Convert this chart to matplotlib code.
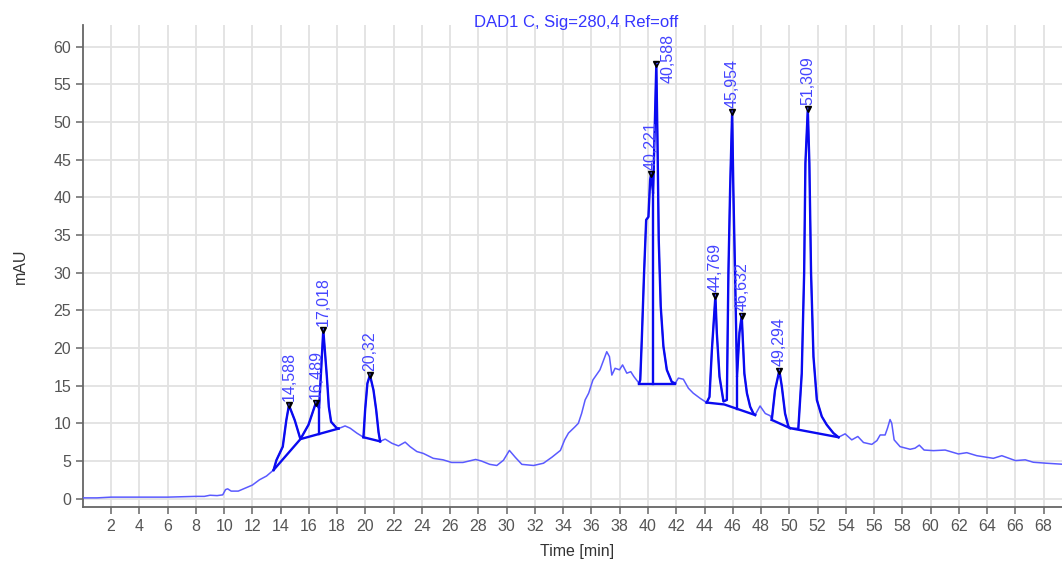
import numpy as np
import matplotlib
matplotlib.use("Agg")
import matplotlib.pyplot as plt

plt.rcParams['font.family'] = ['Liberation Sans', 'DejaVu Sans']

# DAD1 C trace (time in min, signal in mAU)
time_min = [
    0.0, 1.0, 2.0, 3.0, 4.0, 5.0, 6.0, 7.0, 8.0, 8.6, 9.0, 9.5, 9.9,
    10.1, 10.25, 10.5, 11.0, 11.5, 12.0, 12.5, 13.0, 13.5, 13.7, 14.15,
    14.4, 14.588, 15.0, 15.4, 15.97, 16.489, 16.72, 17.018, 17.27, 17.41,
    17.57, 17.97, 18.1, 18.56, 18.92, 19.39, 19.86, 19.98, 20.14, 20.32,
    20.57, 20.76, 20.93, 21.04, 21.4, 21.87, 22.34, 22.81, 23.16, 23.64,
    24.1, 24.8, 25.5, 26.1, 26.9, 27.8, 28.2, 28.8, 29.3, 29.77, 30.19,
    30.6, 31.07, 31.9, 32.6, 33.2, 33.8, 34.1, 34.37, 34.84, 35.07, 35.3,
    35.55, 35.8, 36.1, 36.6, 37.08, 37.27, 37.44, 37.67, 37.98, 38.2,
    38.5, 38.78, 39.0, 39.37, 39.45, 39.56, 39.72, 39.87, 40.03, 40.15,
    40.221, 40.36, 40.588, 40.67, 40.76, 40.9, 41.09, 41.33, 41.68,
    41.92, 42.15, 42.5, 42.86, 43.2, 43.7, 44.15, 44.35, 44.52, 44.769,
    44.87, 45.06, 45.34, 45.58, 45.69, 45.81, 45.954, 46.04, 46.16, 46.3,
    46.47, 46.632, 46.71, 46.82, 47.0, 47.23, 47.46, 47.58, 47.93, 48.3,
    48.65, 48.76, 48.99, 49.294, 49.47, 49.7, 49.94, 50.06, 50.64, 50.88,
    51.05, 51.14, 51.309, 51.42, 51.54, 51.71, 51.95, 52.3, 52.65, 53.12,
    53.48, 53.95, 54.42, 54.85, 55.25, 55.84, 56.2, 56.43, 56.78, 56.95,
    57.13, 57.25, 57.42, 57.84, 58.55, 58.9, 59.2, 59.54, 60.2, 61.03,
    61.97, 62.56, 63.27, 64.44, 65.04, 66.0, 66.7, 67.27, 68.2, 69.3,
]
signal_mau = [
    0.1, 0.1, 0.2, 0.2, 0.2, 0.2, 0.2, 0.25, 0.3, 0.3, 0.45, 0.4, 0.5,
    1.2, 1.3, 1.0, 1.0, 1.4, 1.8, 2.5, 3.0, 3.8, 5.1, 6.9,
    10.4, 12.4, 10.4, 7.9, 9.8, 12.7, 12.0, 22.4, 16.2, 12.2,
    10.2, 9.35, 9.3, 9.65, 9.35, 8.7, 8.15, 11.8, 15.3, 16.4,
    14.4, 11.8, 8.8, 7.6, 7.9, 7.35, 7.0, 7.5, 6.9, 6.25,
    6.0, 5.35, 5.15, 4.8, 4.8, 5.2, 5.0, 4.55, 4.4, 5.1, 6.4,
    5.5, 4.55, 4.4, 4.7, 5.5, 6.4, 7.8, 8.7, 9.55, 10.0, 11.3,
    13.1, 14.0, 15.75, 17.1, 19.5, 18.85, 16.4, 17.3, 17.1, 17.75,
    16.65, 16.85, 16.2, 15.3, 15.75, 21.1, 29.9, 37.0, 37.4, 42.3,
    43.1, 40.5, 57.7, 47.6, 34.3, 25.5, 20.2, 17.1, 15.5,
    15.3, 16.0, 15.85, 14.65, 14.0, 13.3, 12.75, 13.5, 19.7, 26.9,
    22.0, 16.2, 12.9, 13.1, 29.9, 41.0, 51.3, 41.0, 29.9, 16.2,
    22.0, 24.3, 21.1, 16.6, 14.0, 12.2, 11.3, 11.1, 12.3, 11.3,
    11.0, 10.45, 14.4, 17.0, 14.9, 11.3, 9.55, 9.35, 9.35, 16.6,
    29.9, 44.5, 51.7, 44.5, 29.9, 18.85, 13.1, 10.9, 9.8, 8.7,
    8.15, 8.6, 7.8, 8.25, 7.45, 7.2, 7.7, 8.45, 8.45, 9.35,
    10.5, 10.0, 7.8, 6.9, 6.55, 6.7, 7.1, 6.45, 6.37, 6.45,
    5.93, 6.1, 5.7, 5.35, 5.7, 5.05, 5.15, 4.83, 4.7, 4.57,
]

# integrated regions (start, end) in min
peak_windows = [
    (13.5, 18.1), (19.86, 21.04), (39.37, 41.92),
    (44.15, 47.58), (48.76, 50.06), (50.64, 53.48),
]

# baselines drawn under the integrated peaks
baselines = [
    ([13.5, 15.4, 18.1], [3.8, 7.9, 9.3]),
    ([19.86, 21.04], [8.15, 7.6]),
    ([39.37, 41.92], [15.2, 15.2]),
    ([44.15, 45.4, 47.58], [12.75, 12.5, 11.1]),
    ([48.76, 50.06, 50.64, 53.48], [10.45, 9.35, 9.15, 8.15]),
]

# drop lines between unresolved peaks
drop_times = [16.72, 40.36, 46.3]

# labelled peaks
peak_rt = [14.588, 16.489, 17.018, 20.32, 40.221, 40.588,
           44.769, 45.954, 46.632, 49.294, 51.309]
peak_names = ['14,588', '16,489', '17,018', '20,32', '40,221', '40,588',
              '44,769', '45,954', '46,632', '49,294', '51,309']

t = np.array(time_min)
y = np.array(signal_mau)

thin_blue = '#5a5aff'
thick_blue = '#0a0af0'
label_blue = '#4444ff'

fig = plt.figure(figsize=(10.62, 5.62), dpi=100)
ax = fig.add_axes([0.078, 0.098, 0.922, 0.858])

ax.plot(t, y, color=thin_blue, lw=1.1, zorder=3)

for a, b in peak_windows:
    m = (t >= a) & (t <= b)
    ax.plot(t[m], y[m], color=thick_blue, lw=1.7, zorder=4)

for bx, by in baselines:
    ax.plot(bx, by, color=thick_blue, lw=1.7, zorder=4)

for dt in drop_times:
    for bx, by in baselines:
        if bx[0] <= dt <= bx[-1]:
            ax.plot([dt, dt], [np.interp(dt, bx, by), np.interp(dt, t, y)],
                    color=thick_blue, lw=1.7, zorder=4)

peak_h = np.interp(peak_rt, t, y)
ax.plot(peak_rt, peak_h, 'v', color='black', ms=4.5, zorder=6)

for rt, h, name in zip(peak_rt, peak_h, peak_names):
    if name == '40,588':
        offset = (8.5, -13.5)
    else:
        offset = (0, 3)
    ax.annotate(name, xy=(rt, h), xytext=offset, textcoords='offset points',
                rotation=90, ha='center', va='bottom', fontsize=11.5,
                color=label_blue, zorder=7,
                arrowprops=dict(arrowstyle='-', color=label_blue, lw=0.8,
                                shrinkA=0, shrinkB=0))

ax.set_xlim(0, 69.3)
ax.set_ylim(-1.1, 62.9)
ax.set_xticks(np.arange(2, 70, 2))
ax.set_yticks(np.arange(0, 61, 5))

ax.grid(True, color='#e2e2e2', lw=1.3, zorder=0)
ax.set_axisbelow(True)
for side in ['top', 'right']:
    ax.spines[side].set_visible(False)
for side in ['left', 'bottom']:
    ax.spines[side].set_color('#666666')
    ax.spines[side].set_linewidth(1.3)
ax.tick_params(colors='#666666', labelcolor='#555555', labelsize=11.5,
               length=5, width=1.1)

fig.text(0.5424, 0.96, 'DAD1 C, Sig=280,4 Ref=off', color='#3535ff',
         fontsize=12, ha='center', va='center')
ax.set_xlabel('Time [min]', fontsize=11.5, color='#333333')
ax.set_ylabel('mAU', fontsize=11.5, color='#333333')
ax.xaxis.set_label_coords(0.505, -0.077)
ax.yaxis.set_label_coords(-0.056, 0.5)

fig.savefig('out.png', dpi=100)
